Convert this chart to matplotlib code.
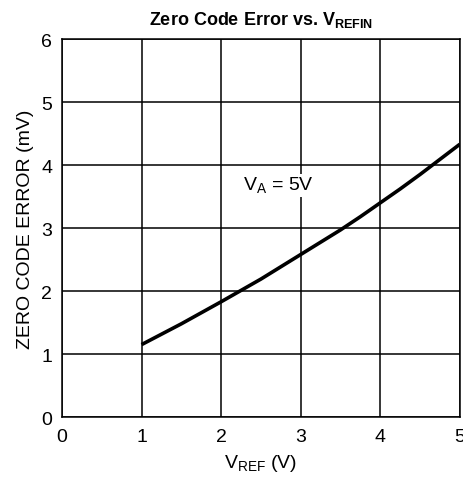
import numpy as np
import matplotlib
matplotlib.use('Agg')
import matplotlib.pyplot as plt

plt.rcParams['font.family'] = ['Liberation Sans', 'DejaVu Sans']
plt.rcParams['mathtext.fontset'] = 'custom'
plt.rcParams['mathtext.rm'] = 'Liberation Sans'
plt.rcParams['mathtext.bf'] = 'Liberation Sans:bold'

# values
vref = [1.0, 1.5, 2.0, 2.5, 3.0, 3.5, 3.75, 4.0, 4.25, 4.5, 4.75, 5.0]
zce = [1.15, 1.48, 1.83, 2.19, 2.58, 2.97, 3.18, 3.40, 3.62, 3.85, 4.09, 4.33]
xticks = [0, 1, 2, 3, 4, 5]
yticks = [0, 1, 2, 3, 4, 5, 6]

fig = plt.figure(figsize=(4.64, 4.85), dpi=100)
ax = fig.add_axes([0.1336, 0.138, 0.8574, 0.7795])

ax.plot(vref, zce, color='black', lw=2.6, solid_capstyle='butt', solid_joinstyle='round')

ax.set_xlim(0, 5)
ax.set_ylim(0, 6)
ax.set_xticks(xticks)
ax.set_yticks(yticks)
ax.tick_params(length=0, labelsize=14)
ax.tick_params(axis='x', pad=8)
ax.tick_params(axis='y', pad=7)
ax.grid(True, color='black', lw=1.1)
ax.set_axisbelow(True)
for s in ax.spines.values():
    s.set_linewidth(1.1)

ax.text(2.28, 3.68, r'V$_\mathregular{A}$ = 5V', fontsize=14, va='center', ha='left',
        bbox=dict(facecolor='white', edgecolor='none', pad=1))

ax.set_xlabel(r'V$_\mathregular{REF}$ (V)', fontsize=14, labelpad=5)
ax.set_ylabel('ZERO CODE ERROR (mV)', fontsize=14, labelpad=5)
ax.set_title(r'Zero Code Error vs. V$_\mathbf{REFIN}$', fontsize=13, fontweight='bold', pad=11)

fig.savefig('out.png', dpi=100)
